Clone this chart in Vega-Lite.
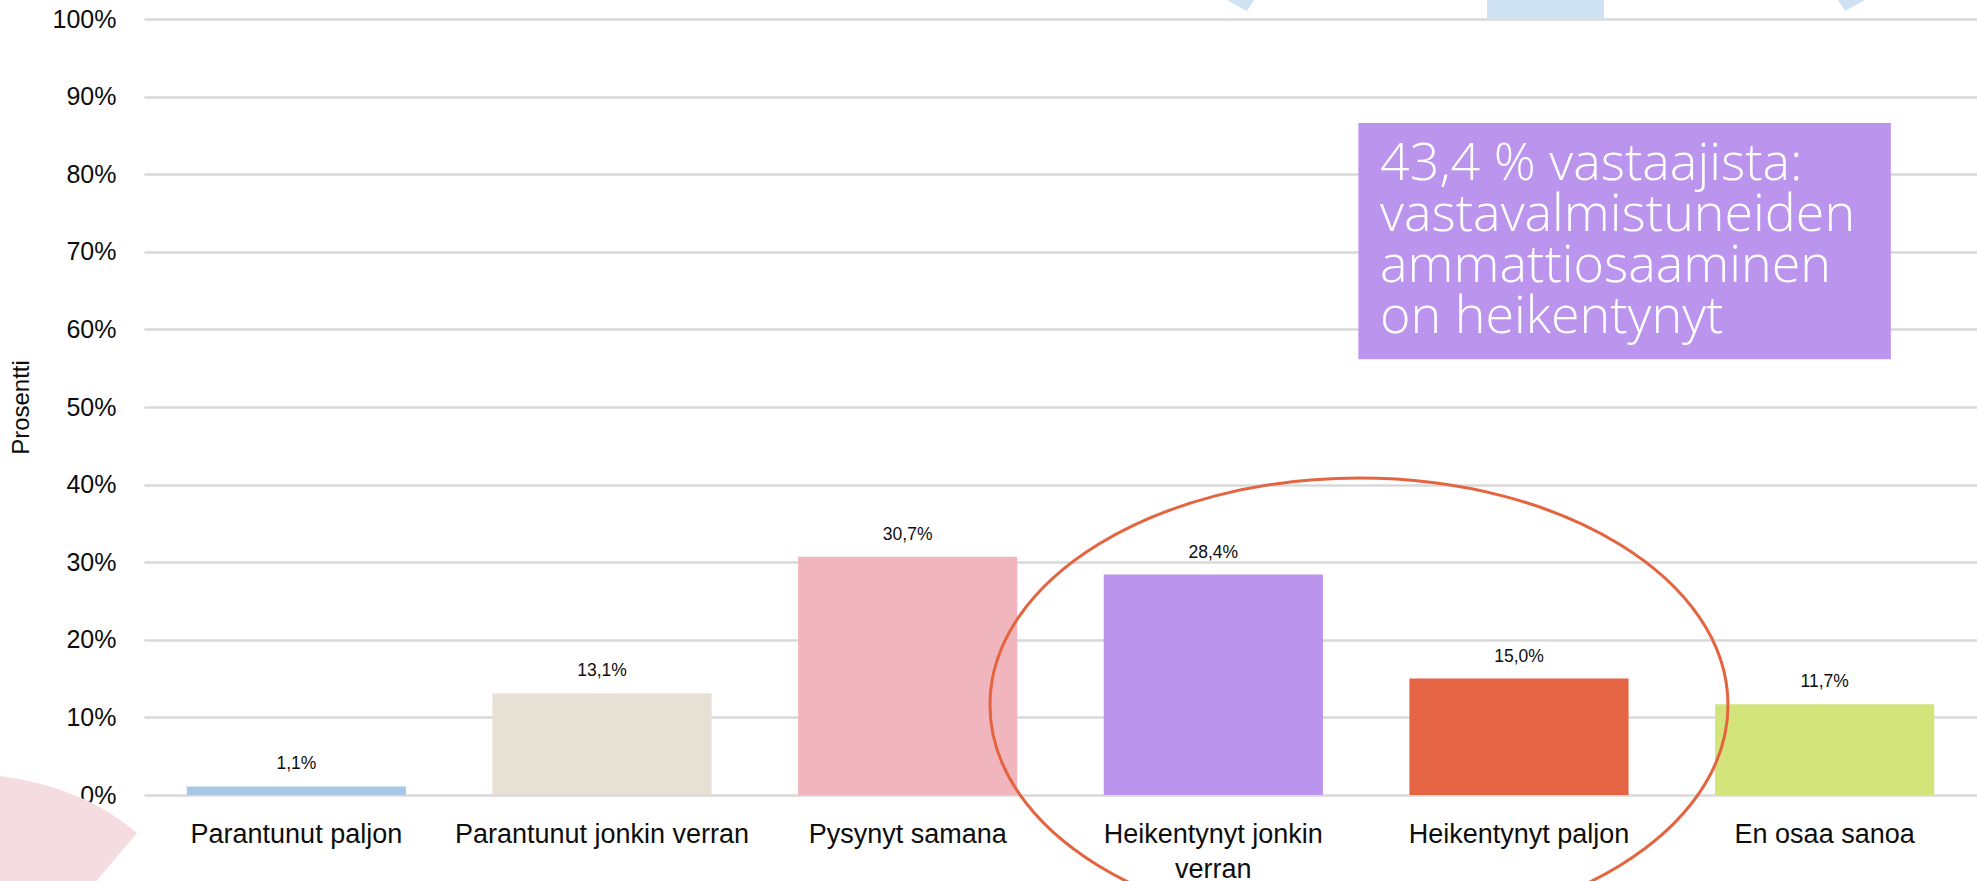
{
  "$schema": "https://vega.github.io/schema/vega-lite/v6.json",
  "width": 1833,
  "height": 776,
  "autosize": {"type": "none"},
  "padding": {"left": 144, "top": 19, "right": 0, "bottom": 86},
  "background": "#ffffff",
  "config": {
    "view": {"stroke": null},
    "font": "Liberation Sans",
    "locale": {"number": {"decimal": ",", "thousands": "\u00a0", "grouping": [3], "currency": ["", "\u00a0€"]}}
  },
  "layer": [
    {
      "data": {"values": [{}]},
      "layer": [
        {
          "mark": {"type": "point", "shape": "M-0.5,-0.6L0,-0.525Q0.42,-0.47,0.685,-0.24L0.44,0.05L-0.5,0.05Z", "filled": true, "fill": "#F5DCE0", "strokeWidth": 0, "opacity": 1, "size": 160000},
          "encoding": {
            "x": {"datum": -0.4714, "type": "quantitative", "scale": {"domain": [0, 6], "nice": false, "zero": false}, "axis": null},
            "y": {"datum": -0.1108, "type": "quantitative", "scale": {"domain": [0, 1], "nice": false}, "axis": null}
          }
        }
      ]
    },
    {
      "data": {"values": [
        {"category": "Parantunut paljon", "value": 0.011},
        {"category": "Parantunut jonkin verran", "value": 0.131},
        {"category": "Pysynyt samana", "value": 0.307},
        {"category": "Heikentynyt jonkin verran", "value": 0.284},
        {"category": "Heikentynyt paljon", "value": 0.150},
        {"category": "En osaa sanoa", "value": 0.117}
      ]},
      "encoding": {
        "x": {
          "field": "category", "type": "nominal", "sort": null,
          "scale": {"paddingInner": 0.283, "paddingOuter": 0.14},
          "axis": {
            "title": null, "labelFontSize": 27, "labelColor": "#0d0d0d", "labelPadding": 26,
            "ticks": false, "tickSize": 0, "domain": false, "labelLimit": 400, "labelOverlap": false,
            "labelLineHeight": 35, "labelAngle": 0,
            "labelExpr": "datum.value == 'Heikentynyt jonkin verran' ? ['Heikentynyt jonkin', 'verran'] : datum.value"
          }
        },
        "y": {
          "field": "value", "type": "quantitative",
          "scale": {"domain": [0, 1], "nice": false},
          "axis": {
            "values": [0, 0.1, 0.2, 0.3, 0.4, 0.5, 0.6, 0.7, 0.8, 0.9, 1],
            "format": ".0%", "grid": true, "gridColor": "#D9D9D9", "gridWidth": 2.5,
            "domain": false, "ticks": false, "tickSize": 0, "labelPadding": 28,
            "labelFontSize": 25, "labelColor": "#0d0d0d",
            "title": "Prosentti", "titleFontSize": 24, "titleFontWeight": "normal",
            "titleColor": "#0d0d0d", "titlePadding": 19
          }
        }
      },
      "layer": [
        {
          "mark": {"type": "bar"},
          "encoding": {
            "color": {
              "field": "category", "type": "nominal", "legend": null,
              "scale": {
                "domain": ["Parantunut paljon", "Parantunut jonkin verran", "Pysynyt samana", "Heikentynyt jonkin verran", "Heikentynyt paljon", "En osaa sanoa"],
                "range": ["#A6C8E6", "#E7E0D4", "#F1B5BE", "#BB94EE", "#E46443", "#D3E47B"]
              }
            }
          }
        },
        {
          "mark": {"type": "text", "baseline": "alphabetic", "dy": -17, "fontSize": 17.5, "color": "#0d0d0d"},
          "encoding": {
            "text": {"field": "value", "type": "quantitative", "format": ".1%"}
          }
        }
      ]
    },
    {
      "data": {"values": [{}]},
      "layer": [
        {
          "mark": {"type": "rect", "color": "#BB94EE"},
          "encoding": {
            "x": {"datum": 3.975, "type": "quantitative", "scale": {"domain": [0, 6], "nice": false, "zero": false}, "axis": null},
            "x2": {"datum": 5.718},
            "y": {"datum": 0.866, "type": "quantitative", "scale": {"domain": [0, 1], "nice": false}, "axis": null},
            "y2": {"datum": 0.5615}
          }
        },
        {
          "mark": {"type": "text", "text": ["43,4 % vastaajista:", "vastavalmistuneiden", "ammattiosaaminen", "on heikentynyt"], "font": "Open Sans", "fontWeight": 300, "fontSize": 52, "lineHeight": 51, "color": "#ffffff", "align": "left", "baseline": "alphabetic"},
          "encoding": {
            "x": {"datum": 4.046, "type": "quantitative", "scale": {"domain": [0, 6], "nice": false, "zero": false}, "axis": null},
            "y": {"datum": 0.7925, "type": "quantitative", "scale": {"domain": [0, 1], "nice": false}, "axis": null}
          }
        },
        {
          "mark": {"type": "point", "shape": "M-1,0A1,0.615,0,1,1,1,0A1,0.615,0,1,1,-1,0Z", "filled": false, "stroke": "#E4643F", "strokeWidth": 3, "opacity": 1, "size": 544644},
          "encoding": {
            "x": {"datum": 3.977, "type": "quantitative", "scale": {"domain": [0, 6], "nice": false, "zero": false}, "axis": null},
            "y": {"datum": 0.116, "type": "quantitative", "scale": {"domain": [0, 1], "nice": false}, "axis": null}
          }
        },
        {
          "mark": {"type": "rect", "color": "#CFE2F3"},
          "encoding": {
            "x": {"datum": 4.396, "type": "quantitative", "scale": {"domain": [0, 6], "nice": false, "zero": false}, "axis": null},
            "x2": {"datum": 4.779},
            "y": {"datum": 1.001, "type": "quantitative", "scale": {"domain": [0, 1], "nice": false}, "axis": null},
            "y2": {"datum": 1.03}
          }
        },
        {
          "mark": {"type": "point", "shape": "M-1,-0.55L0.35,-0.55L0,0Z", "filled": true, "fill": "#CFE2F3", "strokeWidth": 0, "opacity": 1, "size": 1600},
          "encoding": {
            "x": {"datum": 3.6105, "type": "quantitative", "scale": {"domain": [0, 6], "nice": false, "zero": false}, "axis": null},
            "y": {"datum": 1.0103, "type": "quantitative", "scale": {"domain": [0, 1], "nice": false}, "axis": null}
          }
        },
        {
          "mark": {"type": "point", "shape": "M-0.35,-0.55L1,-0.55L0,0Z", "filled": true, "fill": "#CFE2F3", "strokeWidth": 0, "opacity": 1, "size": 1600},
          "encoding": {
            "x": {"datum": 5.568, "type": "quantitative", "scale": {"domain": [0, 6], "nice": false, "zero": false}, "axis": null},
            "y": {"datum": 1.0103, "type": "quantitative", "scale": {"domain": [0, 1], "nice": false}, "axis": null}
          }
        }
      ]
    }
  ],
  "resolve": {"scale": {"x": "independent"}, "axis": {"y": "independent"}}
}
